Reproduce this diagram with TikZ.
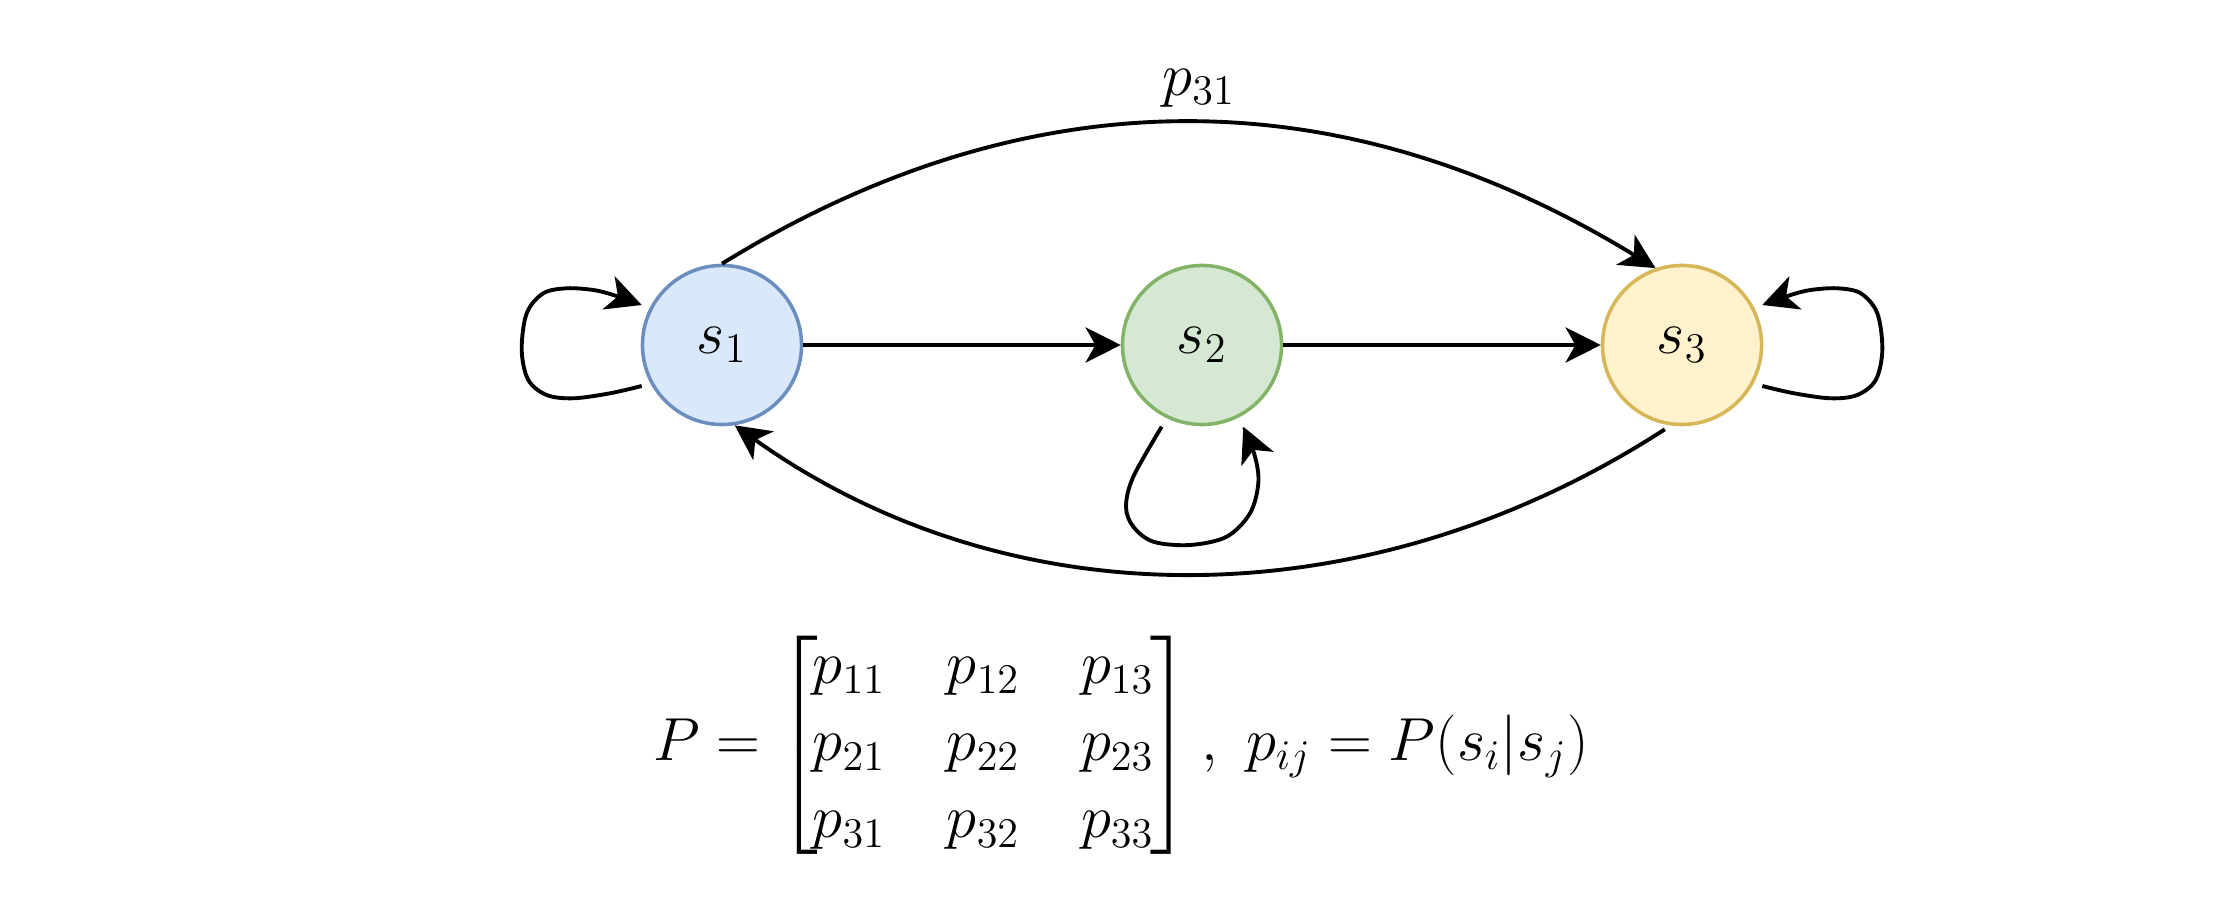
\documentclass[tikz,border=0pt]{standalone}
\usepackage{amsmath}
\usetikzlibrary{arrows.meta,calc}
\definecolor{bluefill}{HTML}{DAE8FC}
\definecolor{bluedraw}{HTML}{6C8EBF}
\definecolor{greenfill}{HTML}{D5E8D4}
\definecolor{greendraw}{HTML}{82B366}
\definecolor{yellowfill}{HTML}{FFF2CC}
\definecolor{yellowdraw}{HTML}{D6B656}
\tikzset{
  statenode/.style={circle, minimum size=1.59cm, inner sep=0pt, line width=1pt,
    font=\fontsize{17.28}{20}\selectfont},
  edge/.style={line width=1.1pt, -{Stealth[length=10pt,width=10pt,inset=2.8pt]}},
  lbl/.style={font=\fontsize{17.28}{20}\selectfont},
}
\begin{document}
\begin{tikzpicture}[x=0.01cm,y=0.01cm]
\useasboundingbox (0,0) rectangle (2240,900);
\node[statenode, fill=bluefill, draw=bluedraw] (s1) at (722,555) {$s_1$};
\node[statenode, fill=greenfill, draw=greendraw] (s2) at (1202,555) {$s_2$};
\node[statenode, fill=yellowfill, draw=yellowdraw] (s3) at (1682,555) {$s_3$};

% straight
\draw[edge] (s1) -- (s2);
\draw[edge] (s2) -- (s3);

% top arc
\draw[edge] (s1.90) .. controls (1028,825) and (1340,825) .. (s3.109);
\node[lbl] (p31) at (1199,812) {$p_{31}$};

% bottom arc
\draw[edge, shorten <=2pt] (s3.-98) .. controls (1367,278) and (1011,278) .. (s1.-81);

% s1 loop
\coordinate (a1) at (641.7,514);
\coordinate (a2) at (641.7,595);
\draw[edge] plot[smooth, tension=0.55] coordinates {(a1) (610,506.7) (573.3,501.7) (546.7,505) (528.3,520) (521.7,550) (526.7,586.7) (543.3,606.7) (566.7,611.7) (593.3,610) (613.3,605) (a2)};

% s3 loop (mirror)
\coordinate (c1) at (1762.3,514);
\coordinate (c2) at (1762.3,595);
\draw[edge] plot[smooth, tension=0.55] coordinates {(c1) (1794,506.7) (1830.7,501.7) (1857.3,505) (1875.7,520) (1882.3,550) (1877.3,586.7) (1860.7,606.7) (1837.3,611.7) (1810.7,610) (1790.7,605) (c2)};

% s2 loop
\coordinate (b1) at (1161.7,473.3);
\coordinate (b2) at (1243.3,473.3);
\draw[edge] plot[smooth, tension=0.55] coordinates {(b1) (1133.3,423.3) (1126,393.3) (1133.3,373.3) (1153.3,358.3) (1190,355) (1226.7,363.3) (1250,386.7) (1258.3,416.7) (1255,443.3) (b2)};

% equation
\node[font=\fontsize{17.28}{21.9}\selectfont] (eq) at (1121,154.5)
  {\setlength{\arraycolsep}{8.7pt}$P=\left[\vphantom{\vcenter{\hbox{\rule{0pt}{58pt}}}}\kern-1.5pt\smash{\begin{matrix} p_{11} & p_{12} & p_{13}\\ p_{21} & p_{22} & p_{23}\\ p_{31} & p_{32} & p_{33}\end{matrix}}\kern-1pt\right],\ p_{ij}=P(s_i|s_j)$};
\end{tikzpicture}
\end{document}
